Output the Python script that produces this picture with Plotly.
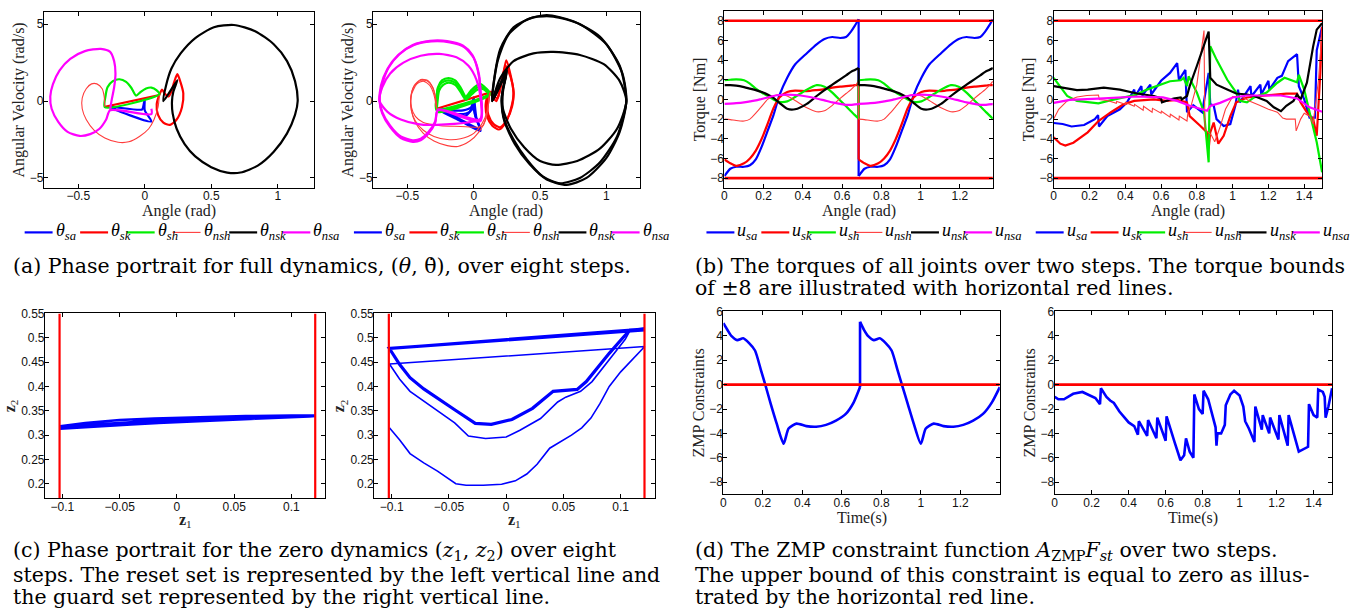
import plotly.graph_objects as go

W, H = 1369, 614

# ---------------- data: (a) phase portraits (angle, angular velocity) ----------------
# left panel (one converged loop per joint)
a1_sa = [[(0.0, 0.12), (-0.01, -0.3), (-0.02, -0.55), (-0.26, -0.38), (0.05, -1.33), (0.0, -0.6), (0.0, 0.12)]]
a1_sk = [[(0.11, 0.4), (0.09, -0.2), (0.1, -0.9), (0.14, -1.4), (0.19, -1.55), (0.24, -1.2), (0.28, -0.4),
          (0.29, 0.5), (0.27, 1.2), (0.245, 1.75), (0.22, 1.2), (0.2, 0.6), (0.18, 0.3), (0.15, 0.5),
          (0.13, 0.75), (0.11, 0.4)],
         [(-0.3, -0.37), (0.11, 0.39)]]
a1_sh = [[(-0.3, -0.4), (-0.295, 0.3), (-0.28, 0.9), (-0.24, 1.3), (-0.19, 1.42), (-0.14, 1.25), (-0.1, 0.85),
          (-0.065, 0.35), (-0.03, 0.6), (0.01, 0.82), (0.05, 0.88), (0.09, 0.7), (0.11, 0.45), (-0.3, -0.4)]]
a1_nsh = [[(-0.3, -0.37), (-0.305, 0.3), (-0.32, 0.8), (-0.36, 1.12), (-0.4, 1.12), (-0.44, 0.8), (-0.47, 0.2),
           (-0.47, -0.5), (-0.44, -1.2), (-0.38, -1.9), (-0.3, -2.4), (-0.2, -2.68), (-0.12, -2.65),
           (-0.04, -2.3), (0.03, -1.8), (0.07, -1.2), (0.1, -0.4), (0.11, 0.39)]]
a1_nsk = [[(0.14, 0.0), (0.245, 1.35), (0.215, 0.6), (0.205, 0.0), (0.21, -0.8), (0.24, -1.8), (0.3, -2.8),
           (0.38, -3.6), (0.5, -4.3), (0.62, -4.65), (0.72, -4.65), (0.85, -4.2), (0.97, -3.3), (1.07, -2.1),
           (1.13, -0.9), (1.15, 0.0), (1.13, 1.3), (1.07, 2.6), (0.97, 3.7), (0.83, 4.55), (0.67, 4.95),
           (0.52, 4.8), (0.38, 4.1), (0.27, 3.1), (0.2, 2.1), (0.16, 1.0), (0.14, 0.0)]]
a1_nsa = [[(0.05, -0.5), (0.05, -0.85), (-0.26, -0.6), (-0.29, -1.2), (-0.34, -1.8), (-0.41, -2.15), (-0.49, -2.27),
           (-0.58, -2.0), (-0.65, -1.35), (-0.7, -0.5), (-0.71, 0.3), (-0.69, 1.1), (-0.64, 2.0), (-0.56, 2.75),
           (-0.45, 3.25), (-0.33, 3.4), (-0.26, 3.2), (-0.23, 2.6), (-0.22, 1.8), (-0.23, 0.9), (-0.25, 0.0),
           (-0.26, -0.6)]]

# right panel (several loops converging)
a2_sa = [[(0.0, 0.15), (0.0, -0.3), (-0.03, -0.7), (-0.1, -0.85), (-0.2, -0.7), (-0.27, -0.55), (-0.1, -1.3),
          (0.05, -1.95), (0.02, -1.2), (0.0, -0.5), (0.0, 0.15)],
         [(0.0, 0.25), (-0.01, -0.3), (-0.05, -0.9), (-0.12, -1.0), (-0.2, -0.8), (-0.27, -0.5), (-0.1, -1.25),
          (0.05, -1.9), (0.02, -1.1), (0.0, 0.25)],
         [(0.0, 0.1), (-0.02, -0.4), (-0.08, -0.6), (-0.18, -0.6), (-0.27, -0.5), (-0.1, -1.2), (0.045, -1.8),
          (0.01, -0.9), (0.0, 0.1)]]
a2_sk = [[(0.11, 0.5), (0.09, -0.2), (0.1, -1.0), (0.14, -1.6), (0.19, -1.85), (0.24, -1.4), (0.28, -0.5),
          (0.3, 0.5), (0.28, 1.6), (0.245, 2.65), (0.22, 1.6), (0.2, 0.8), (0.18, 0.2), (0.15, 0.3), (0.13, 0.6),
          (0.11, 0.5)],
         [(0.12, 0.6), (0.1, 0.0), (0.11, -0.9), (0.15, -1.5), (0.2, -1.7), (0.25, -1.2), (0.29, -0.3), (0.3, 0.6),
          (0.28, 1.5), (0.24, 2.3), (0.21, 1.3), (0.19, 0.5), (0.17, 0.0), (0.14, 0.3), (0.12, 0.6)],
         [(-0.28, -0.5), (0.12, 0.55)]]
a2_sh = [[(-0.28, -0.5), (-0.28, 0.3), (-0.27, 0.9), (-0.24, 1.35), (-0.19, 1.5), (-0.14, 1.35), (-0.1, 0.9),
          (-0.06, 0.3), (-0.02, 0.7), (0.02, 1.0), (0.05, 1.1), (0.09, 0.85), (0.12, 0.5), (-0.28, -0.5)],
         [(-0.28, -0.6), (-0.28, 0.2), (-0.27, 0.8), (-0.24, 1.2), (-0.19, 1.35), (-0.14, 1.2), (-0.1, 0.8),
          (-0.06, 0.2), (-0.02, 0.55), (0.02, 0.85), (0.05, 0.95), (0.09, 0.75), (0.12, 0.45), (-0.28, -0.6)],
         [(-0.27, -0.7), (-0.27, 0.2), (-0.26, 0.7), (-0.23, 1.05), (-0.19, 1.2), (-0.14, 1.05), (-0.1, 0.6),
          (-0.06, 0.1), (-0.02, 0.4), (0.02, 0.7), (0.06, 0.8), (0.1, 0.6), (0.12, 0.4), (-0.27, -0.7)]]
a2_nsh = [[(-0.28, -0.5), (-0.29, 0.3), (-0.31, 0.9), (-0.35, 1.35), (-0.4, 1.4), (-0.45, 1.0), (-0.475, 0.2),
           (-0.47, -0.6), (-0.44, -1.4), (-0.38, -2.1), (-0.3, -2.6), (-0.2, -2.9), (-0.12, -2.95), (-0.03, -2.6),
           (0.04, -2.0), (0.09, -1.2), (0.11, -0.3), (0.12, 0.55)],
          [(-0.28, -0.55), (-0.29, 0.3), (-0.31, 0.9), (-0.35, 1.3), (-0.4, 1.35), (-0.45, 0.95), (-0.475, 0.2),
           (-0.47, -0.6), (-0.44, -1.3), (-0.38, -1.9), (-0.3, -2.3), (-0.2, -2.5), (-0.1, -2.45), (0.0, -2.1),
           (0.06, -1.5), (0.1, -0.7), (0.12, 0.5)],
          [(-0.28, -0.5), (-0.3, 0.4), (-0.33, 1.0), (-0.38, 1.3), (-0.43, 1.1), (-0.47, 0.4), (-0.47, -0.4),
           (-0.44, -1.0), (-0.38, -1.4), (-0.25, -1.6), (-0.1, -1.65), (0.03, -1.7), (0.07, -1.6), (0.1, -0.8),
           (0.12, 0.45)]]
a2_nsk = [[(0.14, 0.0), (0.245, 1.8), (0.22, 0.8), (0.21, 0.0), (0.23, -1.2), (0.3, -2.5), (0.4, -3.8),
           (0.52, -4.9), (0.65, -5.35), (0.8, -5.0), (0.95, -4.0), (1.08, -2.3), (1.15, 0.0), (1.12, 1.8),
           (1.0, 3.7), (0.8, 5.0), (0.6, 5.5), (0.45, 5.45), (0.3, 4.8), (0.2, 3.4), (0.16, 1.8), (0.14, 0.0)],
          [(0.14, 0.0), (0.25, 2.0), (0.22, 0.8), (0.21, 0.0), (0.23, -1.3), (0.31, -2.8), (0.42, -4.1),
           (0.55, -5.1), (0.7, -5.45), (0.85, -5.0), (1.0, -3.7), (1.1, -2.0), (1.15, 0.0), (1.1, 2.3),
           (0.95, 4.2), (0.75, 5.2), (0.55, 5.6), (0.4, 5.3), (0.26, 4.3), (0.18, 2.6), (0.14, 0.0)],
          [(0.14, 0.0), (0.25, 2.0), (0.22, 0.6), (0.22, -0.5), (0.28, -1.8), (0.38, -3.0), (0.5, -3.9),
           (0.62, -4.15), (0.78, -3.9), (0.95, -3.1), (1.08, -1.8), (1.15, 0.0), (1.1, 1.3), (0.98, 2.4),
           (0.8, 3.0), (0.6, 3.2), (0.45, 3.1), (0.3, 2.6), (0.2, 1.5), (0.14, 0.0)]]
a2_nsa = [[(0.05, -1.3), (-0.27, -0.6), (-0.29, -1.4), (-0.34, -2.1), (-0.4, -2.55), (-0.46, -2.65), (-0.55, -2.4),
           (-0.63, -1.7), (-0.69, -0.8), (-0.71, 0.0), (-0.7, 1.0), (-0.65, 2.1), (-0.57, 3.0), (-0.46, 3.65),
           (-0.33, 3.92), (-0.2, 3.9), (-0.08, 3.6), (-0.01, 3.0), (0.03, 2.0), (0.05, 0.8), (0.05, -1.3)],
          [(0.05, -1.2), (-0.27, -0.55), (-0.29, -1.3), (-0.34, -2.0), (-0.4, -2.45), (-0.46, -2.55),
           (-0.55, -2.3), (-0.63, -1.6), (-0.69, -0.7), (-0.71, 0.1), (-0.69, 1.1), (-0.64, 2.2), (-0.56, 3.05),
           (-0.45, 3.65), (-0.32, 3.88), (-0.18, 3.82), (-0.07, 3.5), (0.0, 2.8), (0.04, 1.7), (0.05, 0.5),
           (0.05, -1.2)],
          [(0.05, -1.15), (-0.3, -1.55), (-0.42, -1.5), (-0.55, -1.2), (-0.65, -0.7), (-0.71, 0.0), (-0.69, 0.9),
           (-0.63, 1.8), (-0.53, 2.5), (-0.4, 2.95), (-0.26, 3.07), (-0.13, 2.85), (-0.04, 2.3), (0.02, 1.4),
           (0.05, 0.3), (0.05, -1.15)]]

# ---------------- data: (b) torques ----------------
b1_step1_t = [0, 0.03, 0.06, 0.1, 0.13, 0.16, 0.19, 0.22, 0.25, 0.28, 0.32, 0.36, 0.42, 0.47, 0.51, 0.55,
              0.59, 0.62, 0.645, 0.665, 0.684]
b1_step2_t = [0.684, 0.714, 0.744, 0.784, 0.814, 0.844, 0.874, 0.904, 0.934, 0.964, 1.004, 1.044, 1.104,
              1.154, 1.194, 1.234, 1.274, 1.304, 1.329, 1.349, 1.368]
b1_u_sa = [-7.8, -7.05, -6.85, -6.85, -6.7, -6.1, -4.8, -3.2, -1.6, 0.4, 2.2, 3.55, 4.7, 5.6, 6.15, 6.35,
           6.25, 6.35, 6.9, 7.5, 8.15]
b1_u_sk = [-6.1, -6.5, -6.75, -6.5, -6.0, -5.2, -4.0, -2.5, -0.9, 0.2, 0.75, 0.9, 0.85, 0.95, 1.05, 1.2,
           1.3, 1.35, 1.4, 1.45, 1.45]
b1_u_sh = [1.95, 2.0, 2.05, 1.95, 1.6, 1.1, 0.7, 0.35, 0.0, -0.25, -0.2, 0.25, 1.0, 1.45, 1.3, 0.7,
           -0.1, -0.7, -1.2, -1.6, -1.95]
b1_u_nsh = [-2.0, -2.05, -2.15, -2.2, -2.0, -1.4, -0.7, 0.0, 0.35, 0.5, 0.35, -0.1, -0.85, -1.25, -1.15,
            -0.6, 0.1, 0.6, 1.0, 1.4, 1.85]
b1_u_nsk = [1.45, 1.45, 1.4, 1.25, 1.1, 0.95, 0.75, 0.5, 0.15, -0.35, -0.95, -1.0, -0.45, 0.35, 0.95, 1.5,
            2.05, 2.45, 2.8, 3.0, 3.2]
b1_u_nsa = [-0.45, -0.42, -0.38, -0.3, -0.2, -0.1, 0.05, 0.2, 0.35, 0.45, 0.48, 0.45, 0.3, 0.1, -0.1, -0.3,
            -0.45, -0.55, -0.55, -0.5, -0.48]

b2_u_sa = [(0, -2.4), (0.05, -2.5), (0.1, -2.75), (0.17, -2.6), (0.23, -2.0), (0.248, -1.6), (0.253, -2.75),
           (0.3, -1.7), (0.37, -1.0), (0.41, -0.3), (0.45, 1.0), (0.456, 0.35), (0.49, 1.35), (0.495, 0.4),
           (0.54, 1.5), (0.545, 0.5), (0.6, 1.9), (0.65, 2.7), (0.69, 3.7), (0.7, 2.0), (0.736, 3.0),
           (0.745, -1.3), (0.78, -0.6), (0.83, -1.3), (0.866, 2.7), (0.875, -0.5), (0.894, -0.6), (0.91, -2.0),
           (0.95, -2.7), (0.987, -2.5), (1.015, -0.65), (1.03, 1.0), (1.04, -0.3), (1.1, 1.35), (1.105, 0.3),
           (1.155, 1.5), (1.16, 0.5), (1.2, 1.9), (1.205, 1.0), (1.25, 2.2), (1.275, 2.4), (1.3, 3.4),
           (1.31, 3.9), (1.36, 4.6), (1.37, 1.35), (1.4, 0.0), (1.43, -1.85), (1.46, -1.85), (1.47, 5.0),
           (1.5, 7.4)]
b2_u_sk = [(0, -3.85), (0.037, -4.5), (0.065, -4.7), (0.11, -4.4), (0.19, -3.35), (0.25, -2.2), (0.32, -1.3),
           (0.39, -0.5), (0.45, -0.15), (0.56, 0.0), (0.63, -0.15), (0.69, -0.05), (0.745, -0.3), (0.76, -1.7),
           (0.82, -2.7), (0.857, -3.35), (0.866, -5.0), (0.875, -3.35), (0.894, -2.35), (0.91, -3.7),
           (0.92, -4.5), (0.95, -3.7), (0.987, -1.7), (1.02, -0.3), (1.08, 0.2), (1.155, 0.35), (1.23, 0.5),
           (1.3, 0.6), (1.36, 0.6), (1.38, -0.3), (1.415, -1.3), (1.45, -2.0), (1.47, -3.7), (1.49, 2.7),
           (1.5, 7.4)]
b2_u_sh = [(0, 2.2), (0.028, 1.5), (0.075, 0.35), (0.13, -0.15), (0.186, -0.3), (0.25, -0.4), (0.316, -0.1),
           (0.39, 0.2), (0.465, 0.5), (0.52, 1.0), (0.6, 1.5), (0.65, 1.85), (0.71, 1.95), (0.726, 2.2),
           (0.745, 1.35), (0.754, 2.35), (0.8, 0.7), (0.84, -1.3), (0.866, -6.4), (0.875, 5.4), (0.91, 4.05),
           (0.97, 2.0), (1.02, 0.7), (1.04, -0.15), (1.08, -0.3), (1.12, 0.2), (1.19, 0.7), (1.25, 1.7),
           (1.29, 2.2), (1.32, 2.0), (1.36, 1.75), (1.37, 2.5), (1.4, 1.0), (1.43, -1.3), (1.47, -4.35),
           (1.5, -7.4)]
b2_u_nsh = [(0, -2.0), (0.028, -1.0), (0.075, -0.15), (0.13, 0.25), (0.186, 0.4), (0.25, 0.45), (0.255, 0.0),
            (0.3, -0.1), (0.35, -0.4), (0.352, -0.2), (0.4, -0.5), (0.402, -0.3), (0.45, -0.7), (0.452, -0.5),
            (0.5, -1.1), (0.502, -0.7), (0.55, -1.3), (0.552, -0.9), (0.6, -1.4), (0.602, -1.2), (0.65, -1.8),
            (0.652, -1.5), (0.7, -2.1), (0.702, -1.7), (0.745, -2.2), (0.75, -1.3), (0.77, -0.5), (0.8, 1.5),
            (0.84, 7.0), (0.845, -3.0), (0.86, -3.3), (0.88, -3.6), (0.9, -4.3), (0.93, -2.8), (0.96, -1.0),
            (1.0, 0.3), (1.05, 0.3), (1.1, -0.2), (1.15, -0.6), (1.2, -1.0), (1.25, -1.3), (1.28, -1.9),
            (1.3, -2.0), (1.35, -2.0), (1.355, -3.2), (1.38, -2.0), (1.4, -1.4), (1.43, -1.7), (1.45, -2.5),
            (1.48, 2.0), (1.5, 7.0)]
b2_u_nsk = [(0, 1.35), (0.056, 1.2), (0.13, 0.95), (0.19, 1.0), (0.28, 1.2), (0.37, 1.0), (0.465, 0.6),
            (0.56, 0.35), (0.6, 0.1), (0.605, -0.3), (0.63, -0.15), (0.67, 0.1), (0.71, 0.2), (0.716, 0.0),
            (0.745, 0.35), (0.76, 1.35), (0.8, 3.4), (0.84, 5.4), (0.866, 6.9), (0.875, 2.2), (0.91, 1.5),
            (0.97, 1.0), (1.02, 0.6), (1.08, 0.5), (1.12, 0.35), (1.19, -0.15), (1.23, -0.8), (1.27, -1.2),
            (1.3, -0.65), (1.34, -0.15), (1.36, 0.5), (1.38, 0.0), (1.415, 1.7), (1.45, 5.4), (1.47, 7.1),
            (1.5, 7.75)]
b2_u_nsa = [(0, -0.35), (0.09, -0.05), (0.28, 0.1), (0.465, 0.3), (0.61, 0.2), (0.69, -0.15), (0.76, -0.65),
            (0.857, -1.15), (0.875, -0.65), (0.93, -0.35), (1.0, 0.2), (1.08, 0.4), (1.19, 0.4), (1.27, 0.4),
            (1.36, 0.1), (1.43, -0.8), (1.5, -1.25)]
torque_bounds = [8, -8]

# ---------------- data: (c) zero dynamics (z1, z2) ----------------
c1_path = [(-0.102, 0.313), (-0.07, 0.318), (-0.04, 0.322), (0.0, 0.327), (0.04, 0.332), (0.08, 0.336),
           (0.121, 0.339),
           (-0.102, 0.316), (-0.075, 0.321), (-0.045, 0.326), (-0.01, 0.331), (0.03, 0.335), (0.07, 0.338),
           (0.121, 0.34),
           (-0.102, 0.318), (-0.08, 0.325), (-0.05, 0.331), (-0.02, 0.334), (0.02, 0.337), (0.06, 0.339),
           (0.1, 0.34), (0.121, 0.34)]
c2_path = [(-0.102, 0.315), (-0.093, 0.29), (-0.084, 0.262), (-0.072, 0.243), (-0.06, 0.226), (-0.044, 0.2),
           (-0.035, 0.197), (-0.02, 0.197), (-0.004, 0.199), (0.008, 0.206), (0.018, 0.22), (0.027, 0.24),
           (0.038, 0.273), (0.05, 0.29), (0.057, 0.3), (0.066, 0.315), (0.074, 0.335), (0.082, 0.365),
           (0.09, 0.4), (0.1, 0.43), (0.11, 0.455), (0.121, 0.482),
           (-0.102, 0.446), (-0.093, 0.415), (-0.084, 0.39), (-0.072, 0.37), (-0.06, 0.351), (-0.045, 0.325),
           (-0.033, 0.298), (-0.018, 0.293), (0.0, 0.296), (0.012, 0.31), (0.03, 0.334), (0.045, 0.368),
           (0.052, 0.378), (0.065, 0.39), (0.075, 0.41), (0.085, 0.44), (0.095, 0.47), (0.104, 0.497),
           (0.108, 0.514), (0.121, 0.516)]
c2_converged = [(-0.102, 0.478), (-0.093, 0.445), (-0.084, 0.418), (-0.072, 0.395), (-0.06, 0.375),
                (-0.045, 0.352), (-0.027, 0.324), (-0.013, 0.322), (0.005, 0.332), (0.023, 0.355),
                (0.041, 0.39), (0.062, 0.394), (0.07, 0.41), (0.08, 0.44), (0.09, 0.468), (0.1, 0.495),
                (0.108, 0.516), (0.121, 0.518), (-0.102, 0.478)]
reset_z1 = -0.1025
guard_z1 = 0.1208

# ---------------- data: (d) ZMP constraint ----------------
d1_step1_t = [0, 0.02, 0.04, 0.07, 0.1, 0.13, 0.16, 0.19, 0.212, 0.24, 0.27, 0.305, 0.33, 0.37, 0.42, 0.47,
              0.52, 0.57, 0.62, 0.66, 0.692]
d1_step2_t = [0.692, 0.712, 0.732, 0.762, 0.792, 0.822, 0.852, 0.882, 0.904, 0.934, 0.964, 1.0, 1.025, 1.065,
              1.115, 1.165, 1.215, 1.265, 1.315, 1.36, 1.4]
d1_zmp_step1 = [5.05, 4.5, 4.0, 3.65, 3.8, 3.4, 2.8, 1.2, 0.0, -1.6, -3.2, -4.85, -3.6, -3.2, -3.4, -3.45,
                -3.3, -2.95, -2.4, -1.45, -0.2]
d1_zmp_step2 = [5.15, 4.5, 4.0, 3.65, 3.8, 3.4, 2.8, 1.2, 0.0, -1.6, -3.2, -4.85, -3.6, -3.2, -3.4, -3.45,
                -3.3, -2.95, -2.4, -1.45, -0.2]
d2_zmp = [(0, -1.0), (0.02, -1.2), (0.05, -1.2), (0.08, -0.9), (0.1, -0.75), (0.15, -0.6), (0.18, -0.8),
          (0.22, -1.1), (0.245, -1.6), (0.25, -0.3), (0.28, -1.0), (0.3, -1.3), (0.32, -1.5), (0.35, -2.2),
          (0.4, -3.1), (0.43, -3.4), (0.45, -4.1), (0.455, -3.0), (0.5, -4.2), (0.505, -2.9), (0.55, -4.4),
          (0.555, -2.7), (0.6, -4.6), (0.605, -2.6), (0.65, -4.8), (0.68, -6.2), (0.7, -5.8), (0.71, -4.4),
          (0.73, -5.5), (0.75, -6.0), (0.755, -0.8), (0.78, -2.0), (0.8, -2.4), (0.805, -0.5), (0.83, -1.2),
          (0.86, -2.8), (0.87, -3.5), (0.875, -5.0), (0.88, -4.0), (0.9, -4.0), (0.92, -3.3), (0.925, -1.7),
          (0.95, -0.8), (0.97, -0.5), (1.0, -0.9), (1.02, -1.8), (1.03, -3.0), (1.05, -3.6), (1.08, -4.7),
          (1.085, -1.8), (1.12, -3.7), (1.125, -2.5), (1.16, -4.0), (1.165, -2.7), (1.21, -4.5),
          (1.215, -2.5), (1.26, -5.0), (1.265, -2.5), (1.29, -3.8), (1.31, -5.0), (1.32, -5.5), (1.37, -5.1),
          (1.375, -1.6), (1.4, -2.5), (1.42, -2.7), (1.425, -0.4), (1.45, -0.6), (1.46, -1.0), (1.465, -2.7),
          (1.48, -1.8), (1.5, -0.3)]
zmp_bound = 0

# legend labels
theta_labels = ['<i>θ</i><sub><i>sa</i></sub>', '<i>θ</i><sub><i>sk</i></sub>', '<i>θ</i><sub><i>sh</i></sub>',
                '<i>θ</i><sub><i>nsh</i></sub>', '<i>θ</i><sub><i>nsk</i></sub>', '<i>θ</i><sub><i>nsa</i></sub>']
u_labels = ['<i>u</i><sub><i>sa</i></sub>', '<i>u</i><sub><i>sk</i></sub>', '<i>u</i><sub><i>sh</i></sub>',
            '<i>u</i><sub><i>nsh</i></sub>', '<i>u</i><sub><i>nsk</i></sub>', '<i>u</i><sub><i>nsa</i></sub>']

# ---------------- styling ----------------
BLUE, RED, GREEN, BLACK, MAGENTA = '#0000ff', '#ff0000', '#00ee00', '#000000', '#ff00ff'
NSH = '#ff3c3c'
SERIF = 'Liberation Serif'
CAPSERIF = 'DejaVu Serif'
SANS = 'Liberation Sans'

joint_keys = ['sa', 'sk', 'sh', 'nsh', 'nsk', 'nsa']
joint_style = {'sa': (BLUE, 2.2), 'sk': (RED, 2.2), 'sh': (GREEN, 2.2), 'nsh': (NSH, 1.1),
               'nsk': (BLACK, 2.2), 'nsa': (MAGENTA, 2.2)}


def loops_xy(loops):
    xs, ys = [], []
    for k, loop in enumerate(loops):
        if k:
            xs.append(None)
            ys.append(None)
        xs += [p[0] for p in loop]
        ys += [p[1] for p in loop]
    return xs, ys


fig = go.Figure()

# (a) phase portraits
a_sets = [
    ({'sa': a1_sa, 'sk': a1_sk, 'sh': a1_sh, 'nsh': a1_nsh, 'nsk': a1_nsk, 'nsa': a1_nsa}, 'x', 'y'),
    ({'sa': a2_sa, 'sk': a2_sk, 'sh': a2_sh, 'nsh': a2_nsh, 'nsk': a2_nsk, 'nsa': a2_nsa}, 'x2', 'y2'),
]
for data, xa, ya in a_sets:
    for i, k in enumerate(joint_keys):
        xs, ys = loops_xy(data[k])
        col, wd = joint_style[k]
        fig.add_trace(go.Scatter(x=xs, y=ys, mode='lines', xaxis=xa, yaxis=ya, showlegend=False,
                                 name=theta_labels[i],
                                 line=dict(color=col, width=wd, shape='spline', smoothing=0.7),
                                 connectgaps=False, hoverinfo='skip'))

# (b) torques, left panel: smooth within a step, straight vertical jump at the impact
b1 = {'sa': b1_u_sa, 'sk': b1_u_sk, 'sh': b1_u_sh, 'nsh': b1_u_nsh, 'nsk': b1_u_nsk, 'nsa': b1_u_nsa}
for i, k in enumerate(joint_keys):
    col, wd = joint_style[k]
    fig.add_trace(go.Scatter(x=b1_step1_t + [None] + b1_step2_t, y=b1[k] + [None] + b1[k], mode='lines',
                             xaxis='x3', yaxis='y3', showlegend=False, name=u_labels[i],
                             line=dict(color=col, width=wd, shape='spline', smoothing=0.6), hoverinfo='skip'))
    fig.add_trace(go.Scatter(x=[b1_step1_t[-1], b1_step2_t[0]], y=[b1[k][-1], b1[k][0]], mode='lines',
                             xaxis='x3', yaxis='y3', showlegend=False,
                             line=dict(color=col, width=wd), hoverinfo='skip'))
# (b) torques, right panel
b2 = {'sa': b2_u_sa, 'sk': b2_u_sk, 'sh': b2_u_sh, 'nsh': b2_u_nsh, 'nsk': b2_u_nsk, 'nsa': b2_u_nsa}
for i, k in enumerate(joint_keys):
    col, wd = joint_style[k]
    xs, ys = loops_xy([b2[k]])
    fig.add_trace(go.Scatter(x=xs, y=ys, mode='lines', xaxis='x4', yaxis='y4', showlegend=False,
                             name=u_labels[i], line=dict(color=col, width=wd), hoverinfo='skip'))
for xa, ya, xr in [('x3', 'y3', [0, 1.368]), ('x4', 'y4', [0, 1.5])]:
    for b in torque_bounds:
        fig.add_trace(go.Scatter(x=xr, y=[b, b], mode='lines', xaxis=xa, yaxis=ya, showlegend=False,
                                 line=dict(color=RED, width=2.6), hoverinfo='skip'))

# (c) zero dynamics
xs, ys = loops_xy([c1_path])
fig.add_trace(go.Scatter(x=xs, y=ys, mode='lines', xaxis='x5', yaxis='y5', showlegend=False,
                         line=dict(color=BLUE, width=2.6), hoverinfo='skip'))
xs, ys = loops_xy([c2_path])
fig.add_trace(go.Scatter(x=xs, y=ys, mode='lines', xaxis='x6', yaxis='y6', showlegend=False,
                         line=dict(color=BLUE, width=1.6), hoverinfo='skip'))
xs, ys = loops_xy([c2_path[-1:] + c2_converged])
fig.add_trace(go.Scatter(x=xs, y=ys, mode='lines', xaxis='x6', yaxis='y6', showlegend=False,
                         line=dict(color=BLUE, width=3.2), hoverinfo='skip'))
for xa, ya in [('x5', 'y5'), ('x6', 'y6')]:
    for zx in [reset_z1, guard_z1]:
        fig.add_trace(go.Scatter(x=[zx, zx], y=[0.17, 0.55], mode='lines', xaxis=xa, yaxis=ya,
                                 showlegend=False, line=dict(color=RED, width=2.2), hoverinfo='skip'))

# (d) ZMP
fig.add_trace(go.Scatter(x=d1_step1_t + [None] + d1_step2_t, y=d1_zmp_step1 + [None] + d1_zmp_step2,
                         mode='lines', xaxis='x7', yaxis='y7', showlegend=False,
                         line=dict(color=BLUE, width=2.6, shape='spline', smoothing=0.6), hoverinfo='skip'))
fig.add_trace(go.Scatter(x=[d1_step1_t[-1], d1_step2_t[0]], y=[d1_zmp_step1[-1], d1_zmp_step2[0]],
                         mode='lines', xaxis='x7', yaxis='y7', showlegend=False,
                         line=dict(color=BLUE, width=2.6), hoverinfo='skip'))
xs, ys = loops_xy([d2_zmp])
fig.add_trace(go.Scatter(x=xs, y=ys, mode='lines', xaxis='x8', yaxis='y8', showlegend=False,
                         line=dict(color=BLUE, width=2.6), hoverinfo='skip'))
for xa, ya, xr in [('x7', 'y7', [0, 1.4]), ('x8', 'y8', [0, 1.5])]:
    fig.add_trace(go.Scatter(x=xr, y=[zmp_bound, zmp_bound], mode='lines', xaxis=xa, yaxis=ya,
                             showlegend=False, line=dict(color=RED, width=2.6), hoverinfo='skip'))


# ---------------- layout ----------------
def dx(l, r):
    return [l / W, r / W]


def dy(t, b):
    return [1 - b / H, 1 - t / H]


def ax(domain, rng, tickvals, ticktext, title, standoff, anchor):
    return dict(domain=domain, range=rng, tickmode='array', tickvals=tickvals, ticktext=ticktext,
                ticks='inside', ticklen=4, tickcolor='black', showline=True, linecolor='black', linewidth=1,
                mirror='ticks', showgrid=False, zeroline=False, anchor=anchor, ticklabelstandoff=-3,
                tickfont=dict(family=SANS, size=12, color='#111'),
                title=dict(text=title, standoff=standoff, font=dict(family=SERIF, size=16, color='#222')))


t_ang = [-0.5, 0, 0.5, 1]
tt_ang = ['\u22120.5', '0', '0.5', '1']
t_vel = [-5, 0, 5]
tt_vel = ['\u22125', '0', '5']
t_tq = [-8, -6, -4, -2, 0, 2, 4, 6, 8]
tt_tq = ['\u22128', '\u22126', '\u22124', '\u22122', '0', '2', '4', '6', '8']
t_x12 = [0, 0.2, 0.4, 0.6, 0.8, 1, 1.2]
tt_x12 = ['0', '0.2', '0.4', '0.6', '0.8', '1', '1.2']
t_x14 = [0, 0.2, 0.4, 0.6, 0.8, 1, 1.2, 1.4]
tt_x14 = ['0', '0.2', '0.4', '0.6', '0.8', '1', '1.2', '1.4']
t_z1 = [-0.1, -0.05, 0, 0.05, 0.1]
tt_z1 = ['\u22120.1', '\u22120.05', '0', '0.05', '0.1']
t_z2 = [0.2, 0.25, 0.3, 0.35, 0.4, 0.45, 0.5, 0.55]
tt_z2 = ['0.2', '0.25', '0.3', '0.35', '0.4', '0.45', '0.5', '0.55']
t_zmp = [-8, -6, -4, -2, 0, 2, 4, 6]
tt_zmp = ['\u22128', '\u22126', '\u22124', '\u22122', '0', '2', '4', '6']

lay = dict(width=W, height=H, margin=dict(l=0, r=0, t=0, b=0), paper_bgcolor='white', plot_bgcolor='white',
           showlegend=False)

# x-axis titles are placed as annotations below (exact position), y-axis titles as axis titles
lay['xaxis'] = ax(dx(41, 312), [-0.758, 1.275], t_ang, tt_ang, '', 0, 'y')
lay['yaxis'] = ax(dy(5, 183), [-5.65, 5.8], t_vel, tt_vel, 'Angular Velocity (rad/s)', 1, 'x')
lay['xaxis2'] = ax(dx(371, 638), [-0.758, 1.25], t_ang, tt_ang, '', 0, 'y2')
lay['yaxis2'] = ax(dy(5, 183), [-5.65, 5.8], t_vel, tt_vel, 'Angular Velocity (rad/s)', 1, 'x2')
lay['xaxis3'] = ax(dx(723, 992), [0, 1.368], t_x12, tt_x12, '', 0, 'y3')
lay['yaxis3'] = ax(dy(4, 183), [-9, 9], t_tq, tt_tq, 'Torque [Nm]', 0, 'x3')
lay['xaxis4'] = ax(dx(1053, 1322), [0, 1.5], t_x14, tt_x14, '', 0, 'y4')
lay['yaxis4'] = ax(dy(4, 183), [-9, 9], t_tq, tt_tq, 'Torque [Nm]', 0, 'x4')
lay['xaxis5'] = ax(dx(42, 323), [-0.1153, 0.1296], t_z1, tt_z1, '', 0, 'y5')
lay['yaxis5'] = ax(dy(310, 497), [0.17, 0.55], t_z2, tt_z2, '<b>z</b><sub>2</sub>', 1, 'x5')
lay['xaxis6'] = ax(dx(372, 653), [-0.1153, 0.1296], t_z1, tt_z1, '', 0, 'y6')
lay['yaxis6'] = ax(dy(310, 497), [0.17, 0.55], t_z2, tt_z2, '<b>z</b><sub>2</sub>', 1, 'x6')
lay['xaxis7'] = ax(dx(722, 999), [0, 1.4], t_x12, tt_x12, '', 0, 'y7')
lay['yaxis7'] = ax(dy(308, 493), [-9, 6], t_zmp, tt_zmp, 'ZMP Constraints', 0, 'x7')
lay['xaxis8'] = ax(dx(1054, 1332), [0, 1.5], t_x14, tt_x14, '', 0, 'y8')
lay['yaxis8'] = ax(dy(308, 493), [-9, 6], t_zmp, tt_zmp, 'ZMP Constraints', 0, 'x8')

shapes, annotations = [], []

x_titles = [
    (176.5, 206.5, 'Angle (rad)'), (504.5, 206.5, 'Angle (rad)'),
    (857.5, 206.5, 'Angle (rad)'), (1187.5, 206.5, 'Angle (rad)'),
    (182.5, 519, '<b>z</b><sub>1</sub>'), (512.5, 519, '<b>z</b><sub>1</sub>'),
    (860.5, 517, 'Time(s)'), (1193, 517, 'Time(s)'),
]
for cx, cy, t in x_titles:
    annotations.append(dict(x=cx / W, y=1 - cy / H, xref='paper', yref='paper', xanchor='center',
                            yanchor='middle', text=t, showarrow=False,
                            font=dict(family=SERIF, size=16, color='#222')))

# hand-drawn legends (one row under each of the four top panels)
legend_rows = [
    ([21.7, 77.3, 124, 170, 226.7, 280], theta_labels),
    ([351.7, 407.3, 454, 500, 556.7, 610], theta_labels),
    ([705, 760, 806.7, 853.3, 910, 963.3], u_labels),
    ([1035, 1090, 1136.7, 1183.3, 1238.3, 1291.7], u_labels),
]
LEG_Y = 228
for xs0, labels in legend_rows:
    for x0, lab, k in zip(xs0, labels, joint_keys):
        col, wd = joint_style[k]
        shapes.append(dict(type='line', xref='paper', yref='paper', x0=x0 / W, x1=(x0 + 28) / W,
                           y0=1 - LEG_Y / H, y1=1 - LEG_Y / H, line=dict(color=col, width=wd)))
        annotations.append(dict(x=(x0 + 29) / W, y=1 - (LEG_Y - 1) / H, xref='paper', yref='paper',
                                xanchor='left', yanchor='middle', text=lab, showarrow=False,
                                font=dict(family=SERIF, size=18, color='black')))

cap_font = dict(family=CAPSERIF, size=20.5, color='black')
captions = [
    (8, 262, '(a) Phase portrait for full dynamics, (<i>θ</i>, θ\u0307), over eight steps.'),
    (692, 262, '(b) The torques of all joints over two steps. The torque bounds'),
    (692, 284, 'of ±8 are illustrated with horizontal red lines.'),
    (8, 550, '(c) Phase portrait for the zero dynamics (<i>z</i><sub>1</sub>, <i>z</i><sub>2</sub>) over eight'),
    (8, 575, 'steps. The reset set is represented by the left vertical line and'),
    (8, 597, 'the guard set represented by the right vertical line.'),
    (692, 550, '(d) The ZMP constraint function <i>A</i><sub>ZMP</sub><i>F<sub>st</sub></i> over two steps.'),
    (692, 575, 'The upper bound of this constraint is equal to zero as illus-'),
    (692, 597, 'trated by the horizontal red line.'),
]
for cx, cy, t in captions:
    annotations.append(dict(x=cx / W, y=1 - cy / H, xref='paper', yref='paper', xanchor='left',
                            yanchor='middle', text=t, showarrow=False, font=cap_font))

lay['shapes'] = shapes
lay['annotations'] = annotations

fig.update_layout(**lay)
# remove the browser's default 8px page margin so the figure fills the 1369x614 window exactly
fig.write_html('out.html', config={'displayModeBar': False},
               post_script="document.body.style.margin='0px';")
